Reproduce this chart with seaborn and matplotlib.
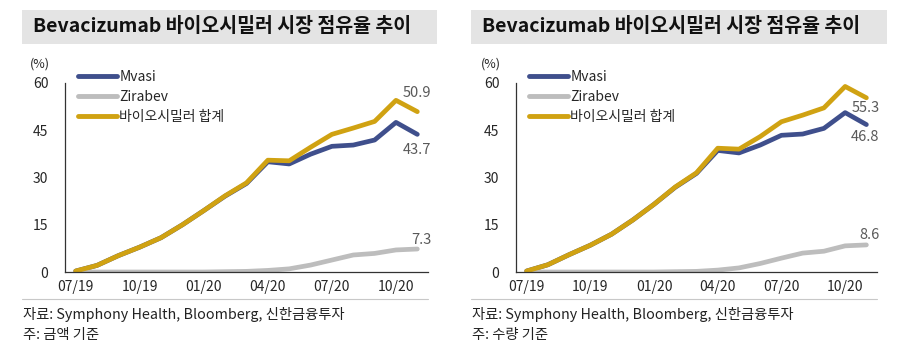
import pandas as pd
import matplotlib.pyplot as plt
import seaborn as sns
from matplotlib.patches import Rectangle
from matplotlib.lines import Line2D

# -----------------------------
# Data (monthly, 07/19 ~ 11/20)
# -----------------------------
months = ['07/19', '08/19', '09/19', '10/19', '11/19', '12/19',
          '01/20', '02/20', '03/20', '04/20', '05/20', '06/20',
          '07/20', '08/20', '09/20', '10/20', '11/20']

# left: 금액 기준
mvasi_amt = [0.3, 2.1, 5.2, 7.9, 10.9, 15.0, 19.5, 24.1, 28.1, 35.0, 34.3, 37.4, 39.9, 40.3, 41.9, 47.5, 43.7]
zirabev_amt = [0, 0, 0, 0, 0, 0, 0, 0.1, 0.2, 0.5, 1.0, 2.2, 3.8, 5.4, 5.9, 7.0, 7.3]
total_amt = [0.3, 2.1, 5.2, 7.9, 10.9, 15.0, 19.5, 24.2, 28.3, 35.5, 35.3, 39.6, 43.7, 45.7, 47.8, 54.5, 50.9]

# right: 수량 기준
mvasi_vol = [0.3, 2.3, 5.5, 8.5, 12.0, 16.5, 21.5, 26.9, 31.3, 38.6, 37.8, 40.3, 43.4, 43.8, 45.6, 50.6, 46.8]
zirabev_vol = [0, 0, 0, 0, 0, 0, 0, 0.1, 0.2, 0.6, 1.3, 2.7, 4.4, 6.0, 6.6, 8.3, 8.6]
total_vol = [0.3, 2.3, 5.5, 8.5, 12.0, 16.5, 21.5, 27.0, 31.5, 39.3, 39.0, 43.0, 47.7, 49.8, 52.1, 58.9, 55.3]

series_names = ['Mvasi', 'Zirabev', '바이오시밀러 합계']
colors = ['#3F4F8C', '#BDBDBD', '#D0A212']
title = 'Bevacizumab 바이오시밀러 시장 점유율 추이'
source = '자료: Symphony Health, Bloomberg, 신한금융투자'
notes = ['주: 금액 기준', '주: 수량 기준']

sns.set_style("white")
plt.rcParams['font.family'] = ['Noto Sans CJK KR', 'DejaVu Sans']

W, H = 911, 353
fig = plt.figure(figsize=(W / 100, H / 100), dpi=100)


def fx(px):
    return px / W


def fy(py):
    return 1 - py / H


# end-label offsets (pixels) for Mvasi, Zirabev, 합계
panels = [
    dict(x0=65, width=363, data=[mvasi_amt, zirabev_amt, total_amt], note=notes[0],
         box=(22, 437), offsets=[(14, -16), (14, 9), (14, 19)]),
    dict(x0=516, width=361, data=[mvasi_vol, zirabev_vol, total_vol], note=notes[1],
         box=(471, 887), offsets=[(13, -12), (13, 10), (13, -10)]),
]

for p in panels:
    # title box
    bx0, bx1 = p['box']
    fig.patches.append(Rectangle((fx(bx0), fy(44)), fx(bx1 - bx0), 34 / H,
                                 transform=fig.transFigure, facecolor='#E4E4E4',
                                 edgecolor='none', zorder=0))
    fig.text(fx(bx0 + 11), fy(27), title, fontsize=14, fontweight='bold',
             va='center', ha='left', color='#111111')

    ax = fig.add_axes([fx(p['x0']), fy(272), fx(p['width']), 189 / H])
    x = list(range(len(months)))
    for name, vals, c in zip(series_names, p['data'], colors):
        sns.lineplot(x=x, y=vals, ax=ax, color=c, linewidth=3.4,
                     solid_capstyle='round', solid_joinstyle='round', legend=False)

    # end labels
    for vals, off in zip(p['data'], p['offsets']):
        ax.annotate(f"{vals[-1]:.1f}", xy=(x[-1], vals[-1]), xytext=off,
                    textcoords='offset pixels', ha='right', va='center',
                    fontsize=10.5, color='#595959')

    ax.set_xlim(-0.5, len(months) - 0.5)
    ax.set_ylim(0, 60)
    ax.set_yticks([0, 15, 30, 45, 60])
    ax.set_yticklabels(['0', '15', '30', '45', '60'], fontsize=10)
    # ticks between categories, labels at category centres
    ax.set_xticks([-0.5, 2.5, 5.5, 8.5, 11.5, 14.5])
    ax.set_xticklabels([])
    ax.set_xticks([0, 3, 6, 9, 12, 15], minor=True)
    ax.set_xticklabels([months[i] for i in [0, 3, 6, 9, 12, 15]], minor=True, fontsize=10)
    ax.tick_params(axis='x', which='major', direction='out', length=4, width=0.8, color='#333333')
    ax.tick_params(axis='x', which='minor', length=0, pad=6)
    ax.tick_params(axis='y', direction='out', length=4, width=0.8, color='#333333', pad=8)
    for s in ['top', 'right']:
        ax.spines[s].set_visible(False)
    for s in ['left', 'bottom']:
        ax.spines[s].set_color('#333333')
        ax.spines[s].set_linewidth(0.9)
    ax.patch.set_alpha(0)

    ax.text(-0.07, 1.1, '(%)', transform=ax.transAxes, fontsize=9, ha='center', va='center')

    handles = [Line2D([], [], color=c, linewidth=3.5, solid_capstyle='round') for c in colors]
    ax.legend(handles, series_names, loc='upper left', bbox_to_anchor=(0.02, 1.1),
              frameon=False, fontsize=10, handlelength=2.8, handletextpad=0.2,
              labelspacing=0.45, borderaxespad=0)

    # source area
    fig.add_artist(Line2D([fx(bx0), fx(bx0 + 406)], [fy(299), fy(299)], color='#C8C8C8', linewidth=0.8))
    fig.text(fx(bx0 + 1), fy(315), source, fontsize=10.3, ha='left', va='center', color='#222222')
    fig.text(fx(bx0 + 1), fy(335), p['note'], fontsize=10.3, ha='left', va='center', color='#222222')

plt.savefig("out.png", dpi=100)
